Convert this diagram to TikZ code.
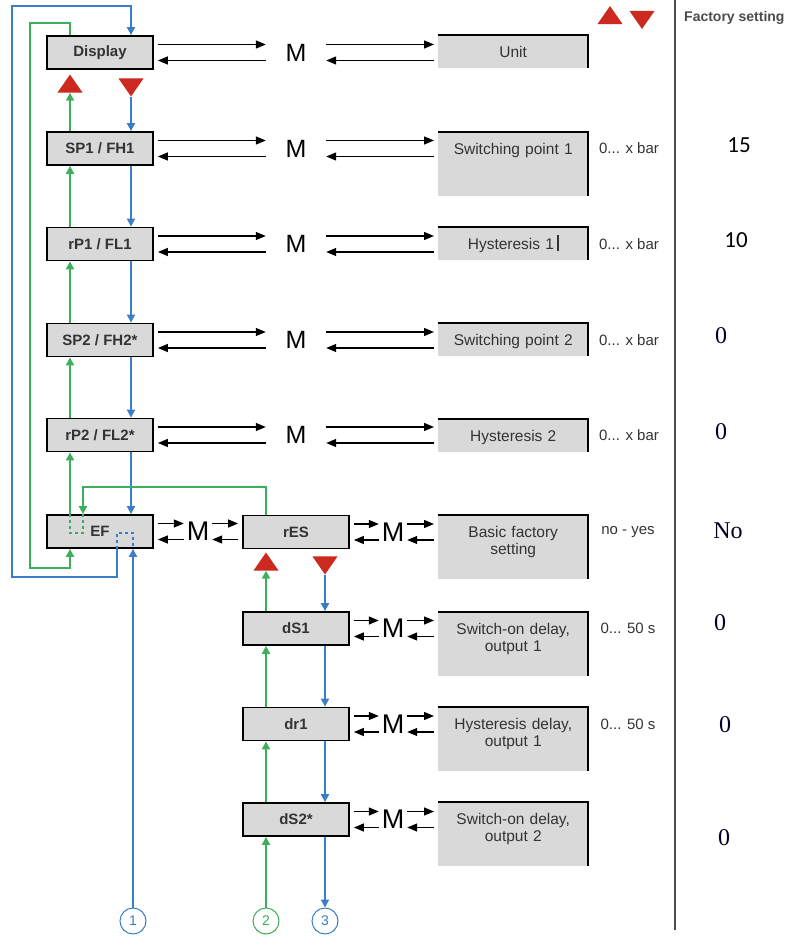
\documentclass[tikz,border=0pt]{standalone}
\usepackage{fontspec}
\setmainfont{Liberation Sans}
\newfontfamily\hurufcarlito{Carlito}
\newfontfamily\hurufserif{Liberation Serif}
\usetikzlibrary{arrows.meta,shapes.geometric}
\definecolor{abu}{HTML}{D9D9D9}
\definecolor{biru}{HTML}{3A7DC9}
\definecolor{hijau}{HTML}{3DAE5C}
\definecolor{merah}{HTML}{CC2A1E}
\definecolor{teks}{HTML}{333333}

\begin{document}
\begin{tikzpicture}[x=1pt,y=-1pt,
      kotak/.style={draw,fill=abu,line width=1.8pt,minimum width=106,minimum height=33,
        inner sep=0pt,font=\fontsize{15}{17}\selectfont\bfseries,text=teks},
      nilai/.style={fill=abu,anchor=north west,inner sep=0pt,text width=150,align=center,
        text height=22pt,text depth=11pt,font=\fontsize{15.5}{17}\selectfont,text=teks},
      tinggi/.style={text depth=42pt},
      tepi/.style={line width=2pt},
      huruf/.style={font=\fontsize{25}{25}\selectfont,inner sep=0pt,minimum width=60},
      hurufkecil/.style={font=\fontsize{27}{27}\selectfont,inner sep=0pt,minimum width=28},
      rentang/.style={font=\fontsize{15}{17}\selectfont,text=teks},
      pabrik/.style={font=\hurufserif\fontsize{24}{24}\selectfont,text=black!85!blue},
      pabrikc/.style={font=\hurufcarlito\fontsize{23}{23}\selectfont},
      segitiga/.style={isosceles triangle,isosceles triangle stretches,fill=merah,
        inner sep=0pt,minimum width=25,minimum height=18},
      naik/.style={segitiga,shape border rotate=90},
      turun/.style={segitiga,shape border rotate=-90},
      nomor/.style={circle,draw,line width=1pt,minimum size=26,inner sep=0pt,
        font=\fontsize{14}{14}\selectfont},
      panah/.style={line width=1.3pt,-{Triangle[length=10pt,width=8pt]}},
      alir/.style={line width=1.8pt,-{Triangle[length=8pt,width=8pt]}}]

    \useasboundingbox (0,0) rectangle (789,941);
    \path[fill=white] (0,0) rectangle (789,941);

    % --- Kolom kiri: menu utama ---------------------------------------------
    \node[kotak] (disp) at (100,52.5)  {Display};
    \node[kotak] (sp1)  at (100,148.5) {SP1 / FH1};
    \node[kotak] (rp1)  at (100,244)   {rP1 / FL1};
    \node[kotak] (sp2)  at (100,340)   {SP2 / FH2*};
    \node[kotak] (rp2)  at (100,435)   {rP2 / FL2*};
    \node[kotak] (ef)   at (100,531.5) {EF};

    % --- Kolom tengah: menu EF ----------------------------------------------
    \node[kotak] (res) at (296,532)   {rES};
    \node[kotak] (ds1) at (296,628.5) {dS1};
    \node[kotak] (dr1) at (296,724)   {dr1};
    \node[kotak] (ds2) at (296,819.5) {dS2*};

    % --- Huruf M di antara panah --------------------------------------------
    \node[huruf] (m1) at (296,52.5)  {M};
    \node[huruf] (m2) at (296,148.5) {M};
    \node[huruf] (m3) at (296,244)   {M};
    \node[huruf] (m4) at (296,340)   {M};
    \node[huruf] (m5) at (296,435)   {M};
    \node[hurufkecil] (m6)  at (198,531.5) {M};
    \node[hurufkecil] (m7)  at (393,532)   {M};
    \node[hurufkecil] (m8)  at (393,628.5) {M};
    \node[hurufkecil] (m9)  at (393,724)   {M};
    \node[hurufkecil] (m10) at (393,819.5) {M};

    % --- Kotak nilai di kanan -----------------------------------------------
    \node[nilai] (unit) at (438,35)         {Unit};
    \node[nilai,tinggi] (nsp1) at (438,132) {Switching point 1};
    \node[nilai] (nrp1) at (438,227)
      {Hysteresis 1\,\rule[-2pt]{2pt}{16pt}};
    \node[nilai] (nsp2) at (438,323)        {Switching point 2};
    \node[nilai] (nrp2) at (438,419)        {Hysteresis 2};
    \node[nilai,tinggi] (nres) at (438,515) {Basic factory\\setting};
    \node[nilai,tinggi] (nds1) at (438,612) {Switch-on delay,\\output 1};
    \node[nilai,tinggi] (ndr1) at (438,707) {Hysteresis delay,\\output 1};
    \node[nilai,tinggi] (nds2) at (438,802) {Switch-on delay,\\output 2};
    \foreach \n in {unit,nsp1,nrp1,nsp2,nrp2,nres,nds1,ndr1,nds2}
      \draw[tepi] (\n.north west) -- (\n.north east) -- (\n.south east);

    % --- Rentang nilai ------------------------------------------------------
    \node[rentang] (rg1) at (629,148.5) {0... x bar};
    \node[rentang] (rg2) at (629,244)   {0... x bar};
    \node[rentang] (rg3) at (629,340)   {0... x bar};
    \node[rentang] (rg4) at (629,435)   {0... x bar};
    \node[rentang] (rg5) at (628,532)   {no - yes};
    \node[rentang] (rg6) at (628,628.5) {0... 50 s};
    \node[rentang] (rg7) at (628,724)   {0... 50 s};

    % --- Kolom setelan pabrik -----------------------------------------------
    \draw[line width=1.4pt,black!70] (675,0) -- (675,930);
    \node[anchor=west,font=\fontsize{14}{16}\selectfont\bfseries,text=black!70,
      inner xsep=0pt] (judul) at (684,18) {Factory setting};
    \node[pabrikc] (f1) at (739,145) {15};
    \node[pabrikc] (f2) at (736,240) {10};
    \node[pabrik]  (f3) at (721,336) {0};
    \node[pabrik]  (f4) at (721,432) {0};
    \node[pabrik]  (f5) at (728,531) {No};
    \node[pabrik]  (f6) at (720,623) {0};
    \node[pabrik]  (f7) at (725,725) {0};
    \node[pabrik]  (f8) at (724,838) {0};

    % --- Segitiga merah dan lingkaran bernomor ------------------------------
    \node[naik]  (naik0)  at (610,17.5) {};
    \node[turun] (turun0) at (642,17.5) {};
    \node[naik]  (naik1)  at (70,86)   {};
    \node[turun] (turun1) at (131,85)  {};
    \node[naik]  (naik2)  at (266,564) {};
    \node[turun] (turun2) at (325,563) {};
    \node[nomor,draw=biru,text=biru]   (c1) at (133,921) {1};
    \node[nomor,draw=hijau,text=hijau] (c2) at (266,921) {2};
    \node[nomor,draw=biru,text=biru]   (c3) at (325,921) {3};

    % --- Jalur panah biru (turun) dan hijau (naik) --------------------------
    \coordinate (lh)  at (70,0);
    \coordinate (lb)  at (131,0);
    \coordinate (lh2) at (266,0);
    \coordinate (lb2) at (325,0);
    \coordinate (hd)  at (83,533);
    \coordinate (bd)  at (117,533);

    % Panah M: dua arah ke kiri dan ke kanan.
    \foreach \kiri/\m/\kanan in {disp/m1/unit,sp1/m2/nsp1,rp1/m3/nrp1,sp2/m4/nsp2,
        rp2/m5/nrp2,ef/m6/res,res/m7/nres,ds1/m8/nds1,dr1/m9/ndr1,ds2/m10/nds2} {
      \draw[panah,shorten <=4pt] ([yshift=8pt]\kiri.east) -- ([yshift=8pt]\m.west);
      \draw[panah,shorten >=4pt] ([yshift=-8pt]\m.west) -- ([yshift=-8pt]\kiri.east);
      \draw[panah,shorten >=4pt] ([yshift=8pt]\m.east)
        -- ([yshift=8pt]\m.east -| \kanan.west);
      \draw[panah,shorten <=4pt] ([yshift=-8pt]\m.east -| \kanan.west)
        -- ([yshift=-8pt]\m.east);
    }

    % Kolom kiri.
    \draw[alir,biru] (turun1.south) -- (sp1.north -| lb);
    \draw[alir,hijau] (sp1.north -| lh) -- (naik1.south);
    \foreach \a/\b in {sp1/rp1,rp1/sp2,sp2/rp2,rp2/ef} {
      \draw[alir,biru] (\a.south -| lb) -- (\b.north -| lb);
      \draw[alir,hijau] (\b.north -| lh) -- (\a.south -| lh);
    }
    % Putaran luar kembali ke Display.
    \draw[alir,biru] (ef.south -| bd) |- (12,577) -- (12,6) -| (disp.north -| lb);
    \draw[alir,hijau] (disp.north -| lh) |- (30,23) -- (30,568) -| (ef.south -| lh);
    \draw[alir,hijau] (res.north -| lh2) -- ++(0,-28) -| (ef.north -| hd);
    \draw[hijau,line width=1.5pt,dashed]
      (ef.north -| hd) -- (hd) -- (hd -| lh) -- (ef.north -| lh);
    \draw[biru,line width=1.5pt,dashed]
      (ef.south -| bd) -- (bd) -- (bd -| c1) -- (ef.south -| c1);
    \draw[alir,biru] (c1.north) -- (ef.south -| c1);

    % Kolom tengah.
    \draw[alir,biru] (turun2.south) -- (ds1.north -| lb2);
    \draw[alir,hijau] (ds1.north -| lh2) -- (naik2.south);
    \foreach \a/\b in {ds1/dr1,dr1/ds2} {
      \draw[alir,biru] (\a.south -| lb2) -- (\b.north -| lb2);
      \draw[alir,hijau] (\b.north -| lh2) -- (\a.south -| lh2);
    }
    \draw[alir,biru] (ds2.south -| lb2) -- (c3.north);
    \draw[alir,hijau] (c2.north) -- (ds2.south -| lh2);
  \end{tikzpicture}
\end{document}
